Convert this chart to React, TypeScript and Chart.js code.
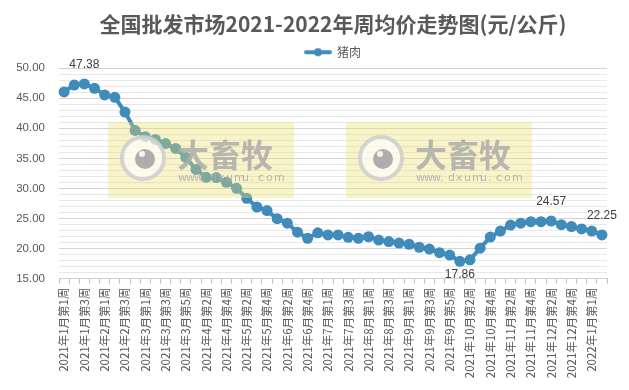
import React, { useEffect, useRef } from 'react';
import { Chart, registerables } from 'chart.js';

Chart.register(...registerables);

const weekLabels = [
  '2021年1月第1周', '2021年1月第2周', '2021年1月第3周', '2021年1月第4周',
  '2021年2月第1周', '2021年2月第2周', '2021年2月第3周', '2021年2月第4周',
  '2021年3月第1周', '2021年3月第2周', '2021年3月第3周', '2021年3月第4周', '2021年3月第5周',
  '2021年4月第1周', '2021年4月第2周', '2021年4月第3周', '2021年4月第4周',
  '2021年5月第1周', '2021年5月第2周', '2021年5月第3周', '2021年5月第4周',
  '2021年6月第1周', '2021年6月第2周', '2021年6月第3周', '2021年6月第4周', '2021年6月第5周',
  '2021年7月第1周', '2021年7月第2周', '2021年7月第3周', '2021年7月第4周',
  '2021年8月第1周', '2021年8月第2周', '2021年8月第3周', '2021年8月第4周',
  '2021年9月第1周', '2021年9月第2周', '2021年9月第3周', '2021年9月第4周', '2021年9月第5周',
  '2021年10月第1周', '2021年10月第2周', '2021年10月第3周', '2021年10月第4周',
  '2021年11月第1周', '2021年11月第2周', '2021年11月第3周', '2021年11月第4周',
  '2021年12月第1周', '2021年12月第2周', '2021年12月第3周', '2021年12月第4周', '2021年12月第5周',
  '2022年1月第1周', '2022年1月第2周',
];

const porkPrices = [
  46.05, 47.2, 47.38, 46.65,
  45.55, 45.15, 42.7, 39.65,
  38.6, 38.15, 37.45, 36.65, 35.15,
  33.15, 31.85, 31.8, 31.0,
  30.0, 28.35, 26.9, 26.3,
  24.95, 24.2, 22.7, 21.7, 22.6,
  22.25, 22.25, 21.85, 21.7,
  21.95, 21.4, 21.15, 20.9,
  20.7, 20.2, 19.9, 19.3, 18.9,
  17.86, 18.1, 20.05, 21.9,
  22.9, 23.9, 24.2, 24.45,
  24.45, 24.57, 23.95, 23.65, 23.25,
  22.9, 22.25,
];

const seriesName = '猪肉';
const chartTitle = '全国批发市场2021-2022年周均价走势图(元/公斤)';
const yMin = 15;
const yMax = 50;
const yMinorStep = 1;
const yMajorStep = 5;

// indices of points carrying a value label, and where the label sits
const labeledIndices = [2, 39, 48, 53];
const labelBelow = [false, true, false, false];

const LINE_COLOR = '#3f8bba';
const TEXT_COLOR = '#595959';

function makeLegendSymbol(): HTMLCanvasElement {
  const c = document.createElement('canvas');
  c.width = 28;
  c.height = 12;
  const ctx = c.getContext('2d')!;
  ctx.strokeStyle = LINE_COLOR;
  ctx.lineWidth = 4;
  ctx.lineCap = 'round';
  ctx.beginPath();
  ctx.moveTo(2, 6);
  ctx.lineTo(26, 6);
  ctx.stroke();
  ctx.fillStyle = LINE_COLOR;
  ctx.beginPath();
  ctx.arc(14, 6, 4, 0, Math.PI * 2);
  ctx.fill();
  return c;
}

const valueLabelPlugin = {
  id: 'valueLabels',
  afterDatasetsDraw(chart: any) {
    const meta = chart.getDatasetMeta(0);
    const ctx = chart.ctx;
    ctx.save();
    ctx.font = '12px "Liberation Sans", Arial, sans-serif';
    ctx.fillStyle = '#404040';
    ctx.textAlign = 'center';
    ctx.textBaseline = 'middle';
    labeledIndices.forEach((idx, k) => {
      const el = meta.data[idx];
      if (!el) return;
      const dy = labelBelow[k] ? 13 : -19;
      ctx.fillText(porkPrices[idx].toFixed(2), el.x, el.y + dy);
    });
    ctx.restore();
  },
};

function drawWatermark(ctx: CanvasRenderingContext2D, x: number, y: number) {
  const w = 186;
  const h = 76;
  ctx.save();
  ctx.fillStyle = 'rgba(238, 222, 105, 0.36)';
  ctx.fillRect(x, y, w, h);
  // logo
  const cx = x + 35;
  const cy = y + 36;
  ctx.globalAlpha = 0.85;
  ctx.fillStyle = 'rgba(255,255,255,0.75)';
  ctx.beginPath();
  ctx.arc(cx, cy, 22, 0, Math.PI * 2);
  ctx.fill();
  ctx.strokeStyle = '#cdcdcd';
  ctx.lineWidth = 4;
  ctx.beginPath();
  ctx.arc(cx, cy, 21, 0, Math.PI * 2);
  ctx.stroke();
  ctx.fillStyle = '#a0a0a0';
  ctx.beginPath();
  ctx.arc(cx + 2, cy + 1, 10, 0, Math.PI * 2);
  ctx.fill();
  ctx.fillStyle = '#ffffff';
  ctx.beginPath();
  ctx.arc(cx - 1, cy - 4, 3, 0, Math.PI * 2);
  ctx.fill();
  // text
  ctx.fillStyle = '#ababab';
  ctx.textAlign = 'left';
  ctx.textBaseline = 'middle';
  ctx.font = 'bold 32px "Noto Sans CJK SC", sans-serif';
  ctx.fillText('大畜牧', x + 69, y + 33);
  ctx.font = '11px "DejaVu Sans", sans-serif';
  const site = 'www.dxumu.com';
  let tx = x + 70;
  for (const ch of site) {
    ctx.fillText(ch, tx, y + 56);
    tx += 8;
  }
  ctx.restore();
}

const watermarkPlugin = {
  id: 'watermark',
  afterDraw(chart: any) {
    const ctx = chart.ctx as CanvasRenderingContext2D;
    drawWatermark(ctx, 108, 122);
    drawWatermark(ctx, 346, 122);
  },
};

export default function App() {
  const canvasRef = useRef<HTMLCanvasElement | null>(null);

  useEffect(() => {
    document.body.style.margin = '0';
    const canvas = canvasRef.current;
    if (!canvas) return;
    const legendSymbol = makeLegendSymbol();

    const chart = new Chart(canvas, {
      type: 'line',
      data: {
        labels: weekLabels,
        datasets: [
          {
            label: seriesName,
            data: porkPrices,
            borderColor: LINE_COLOR,
            backgroundColor: LINE_COLOR,
            borderWidth: 4,
            pointRadius: 5.5,
            pointBorderWidth: 0,
            pointBackgroundColor: LINE_COLOR,
            pointStyle: 'circle',
            tension: 0,
            fill: false,
          },
        ],
      },
      options: {
        responsive: false,
        animation: false,
        devicePixelRatio: 1,
        layout: { padding: { left: 0, right: 22, top: 0, bottom: 0 } },
        plugins: {
          title: {
            display: true,
            fullSize: false,
            text: chartTitle,
            color: TEXT_COLOR,
            font: { family: '"Noto Sans CJK SC", sans-serif', size: 21, weight: 'bold' },
            padding: { top: 11, bottom: 2 },
          },
          legend: {
            display: true,
            fullSize: false,
            position: 'top',
            labels: {
              color: TEXT_COLOR,
              font: { family: '"Noto Sans CJK SC", sans-serif', size: 12 },
              usePointStyle: true,
              pointStyleWidth: 26,
              padding: 8,
              generateLabels: (c: any) => {
                const items = Chart.defaults.plugins.legend.labels.generateLabels(c);
                return items.map((it: any) => ({ ...it, pointStyle: legendSymbol }));
              },
            },
          },
          tooltip: { enabled: false },
        },
        scales: {
          x: {
            type: 'category',
            offset: true,
            afterFit: (s: any) => {
              s.height = 111.5;
            },
            grid: {
              offset: true,
              drawOnChartArea: false,
              drawTicks: true,
              tickLength: 5,
              color: '#bfbfbf',
            },
            border: { display: true, color: '#d0d0d0' },
            ticks: {
              autoSkip: false,
              minRotation: 90,
              maxRotation: 90,
              padding: 4,
              color: TEXT_COLOR,
              font: { family: '"Noto Sans CJK SC", sans-serif', size: 11.5 },
              callback: (_v: any, i: number) => (i % 2 === 0 ? weekLabels[i] : ''),
            },
          },
          y: {
            min: yMin,
            max: yMax,
            afterFit: (s: any) => {
              s.width = 59;
            },
            grid: {
              drawTicks: false,
              color: (c: any) => (c.tick && c.tick.value % yMajorStep === 0 ? '#d4d4d4' : '#e8e8e8'),
              lineWidth: 1,
            },
            border: { display: false },
            ticks: {
              stepSize: yMinorStep,
              padding: 14,
              color: TEXT_COLOR,
              font: { family: '"Liberation Sans", Arial, sans-serif', size: 11.5 },
              autoSkip: false,
              callback: (v: any) => (Number(v) % yMajorStep === 0 ? Number(v).toFixed(2) : ''),
            },
          },
        },
      },
      plugins: [valueLabelPlugin, watermarkPlugin],
    } as any);

    return () => chart.destroy();
  }, []);

  return (
    <div style={{ width: 629, height: 390 }}>
      <canvas ref={canvasRef} width={629} height={390} style={{ display: 'block' }} />
    </div>
  );
}
